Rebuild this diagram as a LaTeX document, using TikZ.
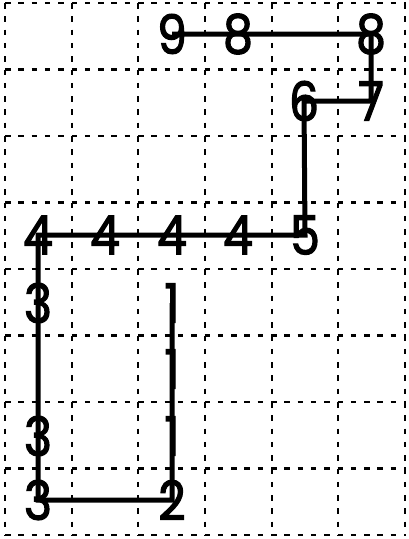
\documentclass[tikz,border=0pt]{standalone}
\usepackage{fontspec}
\newfontfamily\digitfont[FakeBold=2.2]{Poppins}
\begin{document}
\begin{tikzpicture}[x=1pt,y=-1pt,
  gridline/.style={line width=2.3pt, dash pattern=on 5.5pt off 7.8pt},
  route/.style={line width=5pt, line join=miter},
  digit/.style={inner sep=0pt, font=\fontsize{54}{54}\digitfont}]
\newcommand{\dg}[1]{\scalebox{0.88}[1]{#1}}
\useasboundingbox (0,0) rectangle (409,539);
% grid
\foreach \i in {0,...,6} {
  \draw[gridline] (5+66.667*\i,3) -- (5+66.667*\i,536);
}
\foreach \j in {0,...,8} {
  \draw[gridline] (5,3+66.5*\j) -- (406,3+66.5*\j);
}
% digits
\node[digit] (n9)  at (172,34) {\dg{9}};
\node[digit] (n8a) at (238,34) {\dg{8}};
\node[digit] (n8b) at (371,34) {\dg{8}};
\node[digit] (n7)  at (371,101) {\dg{7}};
\node[digit] (n6)  at (304,101) {\dg{6}};
\node[digit] (n5)  at (305,235) {\dg{5}};
\node[digit] (n4a) at (38,235) {\dg{4}};
\node[digit] (n4b) at (105,235) {\dg{4}};
\node[digit] (n4c) at (172,235) {\dg{4}};
\node[digit] (n4d) at (238,235) {\dg{4}};
\node[digit] (n3a) at (38,303) {\dg{3}};
\node[digit] (n1a) at (172,303) {\dg{1}};
\node[digit] (n1b) at (172,369) {\dg{1}};
\node[digit] (n1c) at (172,436) {\dg{1}};
\node[digit] (n3b) at (38,436) {\dg{3}};
\node[digit] (n3c) at (38,500) {\dg{3}};
\node[digit] (n2)  at (172,500) {\dg{2}};
% route
\draw[route] (n9.center) -- (n8a.center) -- (n8b.center) -- (n7.center) -- (n6.center)
  -- (n5.center) -- (n4d.center) -- (n4c.center) -- (n4b.center) -- (n4a.center)
  -- (n3a.center) -- (n3b.center) -- (n3c.center) -- (n2.center)
  -- (n1c.center) -- (n1b.center) -- (n1a.center);
\end{tikzpicture}
\end{document}
